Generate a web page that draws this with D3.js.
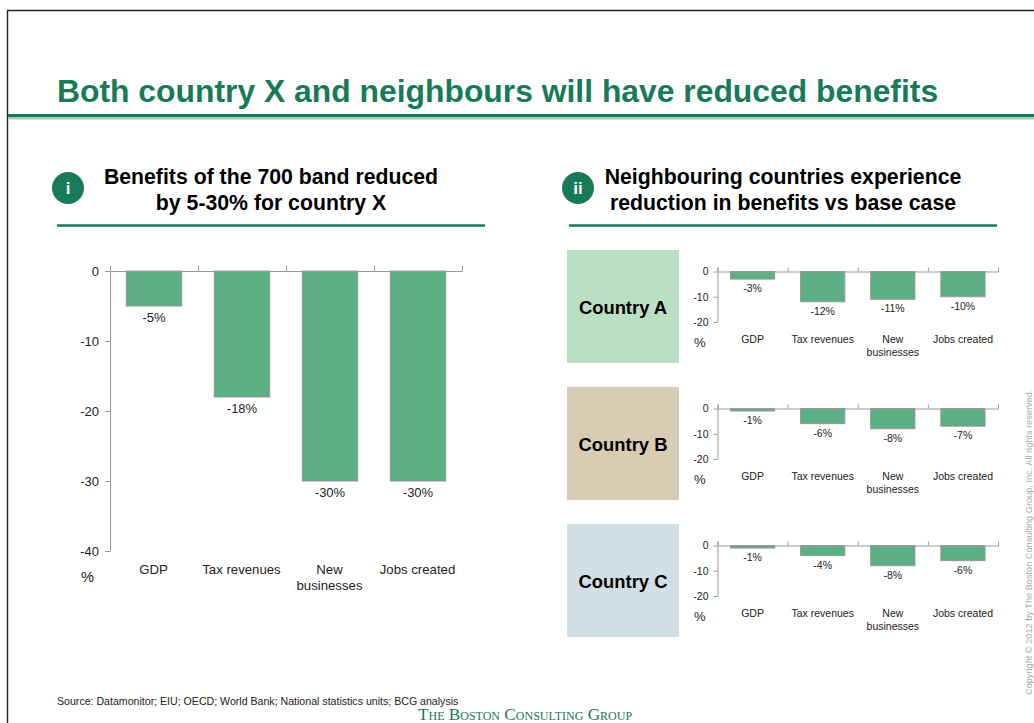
<!DOCTYPE html>
<html>
<head>
<meta charset="utf-8">
<style>
html,body{margin:0;padding:0;background:#fff}
svg{display:block}
text{font-family:"Liberation Sans",Arial,sans-serif}
</style>
<script src="https://cdn.jsdelivr.net/npm/d3@7"></script>
</head>
<body>
<svg id="slide" width="1034" height="723"></svg>
<script>
// Slide content
const titleText = "Both country X and neighbours will have reduced benefits";
const leftHeading = ["Benefits of the 700 band reduced", "by 5-30% for country X"];
const rightHeading = ["Neighbouring countries experience", "reduction in benefits vs base case"];
const sourceText = "Source: Datamonitor; EIU; OECD; World Bank; National statistics units; BCG analysis";
const firmName = "The Boston Consulting Group";
const copyrightText = "Copyright © 2012 by The Boston Consulting Group, Inc. All rights reserved.";

// Chart data, in percent
const categories = ["GDP", "Tax revenues", "New businesses", "Jobs created"];
const countryXValues = [-5, -18, -30, -30];
const countryXTicks = [0, -10, -20, -30, -40];
const neighbourTicks = [0, -10, -20];
const neighbourNames = ["Country A", "Country B", "Country C"];
const countryAValues = [-3, -12, -11, -10];
const countryBValues = [-1, -6, -8, -7];
const countryCValues = [-1, -4, -8, -6];
const neighbourFills = ["#bbdfc3", "#d8ccb4", "#d1dfe5"];

const GREEN = "#177b57", BAR = "#5cae83", BAR_EDGE = "#8f9c95", AXIS = "#9a9a9a", INK = "#222";

const svg = d3.select("#slide");

// Slide frame, title and its two-tone rule
svg.append("path").attr("d", "M7.5,723V10.5H1034").attr("fill", "none").attr("stroke", "#222").attr("stroke-width", 1.4);
svg.append("text").attr("x", 57).attr("y", 102).attr("font-size", 31.85).attr("font-weight", 700)
  .attr("fill", GREEN).text(titleText);
svg.append("rect").attr("x", 8).attr("y", 114).attr("width", 1026).attr("height", 3).attr("fill", GREEN);
svg.append("rect").attr("x", 8).attr("y", 117).attr("width", 1026).attr("height", 2.5).attr("fill", "#a3d0b2");

// Section heading: numbered badge, two bold lines, underline
function heading(badge, cx, textX, ruleX0, ruleX1, lines) {
  svg.append("circle").attr("cx", cx).attr("cy", 188).attr("r", 16).attr("fill", GREEN);
  svg.append("text").attr("x", cx).attr("y", 194).attr("text-anchor", "middle")
    .attr("font-size", 17).attr("font-weight", 700).attr("fill", "#fff").text(badge);
  lines.forEach((l, i) => svg.append("text").attr("x", textX).attr("y", 184 + i * 26)
    .attr("text-anchor", "middle").attr("font-size", 21.25).attr("font-weight", 700).attr("fill", "#000").text(l));
  svg.append("line").attr("x1", ruleX0).attr("x2", ruleX1).attr("y1", 225.5).attr("y2", 225.5)
    .attr("stroke", GREEN).attr("stroke-width", 2.4);
}
heading("i", 68, 271, 57, 485, leftHeading);
heading("ii", 578, 783, 569, 997, rightHeading);

// One downward bar chart: axes come from d3 scales, bars hang from the zero line
function barChart(o) {
  const g = svg.append("g");
  const y = d3.scaleLinear().domain([0, o.min]).range([o.top, o.bottom]);
  const band = d3.scaleBand().domain(categories).range([o.left, o.right]).paddingInner(0.37).paddingOuter(0.185);
  const edges = d3.scaleLinear().domain([0, categories.length]).range([o.left, o.right]);

  g.selectAll("rect.bar").data(o.values).join("rect").attr("class", "bar")
    .attr("x", (d, i) => band(categories[i]))
    .attr("y", y(0))
    .attr("width", band.bandwidth())
    .attr("height", d => y(d) - y(0))
    .attr("fill", BAR).attr("stroke", BAR_EDGE).attr("stroke-width", 1);

  const xAxis = g.append("g").attr("transform", `translate(0,${o.top})`)
    .call(d3.axisTop(edges).ticks(categories.length).tickSize(o.tick).tickFormat(""));
  const yAxis = g.append("g").attr("transform", `translate(${o.left},0)`)
    .call(d3.axisLeft(y).tickValues(o.ticks).tickSize(o.tick).tickSizeOuter(0).tickPadding(o.tickPad).tickFormat(String));
  [xAxis, yAxis].forEach(a => {
    a.selectAll("path,line").attr("stroke", AXIS).attr("stroke-width", 1);
  });
  yAxis.selectAll("text").attr("font-size", o.font).attr("fill", INK).style("font-family", '"Liberation Sans",Arial,sans-serif');

  // Value labels under each bar
  g.selectAll("text.value").data(o.values).join("text").attr("class", "value")
    .attr("x", (d, i) => band(categories[i]) + band.bandwidth() / 2)
    .attr("y", d => y(d) + o.valueGap)
    .attr("text-anchor", "middle").attr("font-size", o.font).attr("fill", INK)
    .text(d => d + "%");

  // Category labels, broken onto two lines where needed
  categories.forEach(c => {
    const cx = band(c) + band.bandwidth() / 2 - o.catShift;
    const parts = c === "New businesses" ? c.split(" ") : [c];
    parts.forEach((p, i) => g.append("text").attr("x", cx).attr("y", o.catY + i * o.catLine)
      .attr("text-anchor", "middle").attr("font-size", o.catFont).attr("fill", INK).text(p));
  });

  g.append("text").attr("x", o.pctX).attr("y", o.pctY).attr("font-size", o.pctFont).attr("fill", INK).text("%");
}

barChart({
  values: countryXValues, ticks: countryXTicks, min: -40,
  left: 110, right: 462, top: 271, bottom: 551,
  tick: 5, tickPad: 6, font: 13, valueGap: 15.5,
  catFont: 13.2, catShift: 0.5, catY: 574, catLine: 16, pctX: 81, pctY: 582, pctFont: 14.6
});

// Three neighbouring-country rows, each a coloured name card and a small chart
[countryAValues, countryBValues, countryCValues].forEach((values, i) => {
  const dy = i * 137;
  svg.append("rect").attr("x", 567).attr("y", 250 + dy).attr("width", 112).attr("height", 113)
    .attr("fill", neighbourFills[i]);
  svg.append("text").attr("x", 623).attr("y", 314 + dy).attr("text-anchor", "middle")
    .attr("font-size", 18.4).attr("font-weight", 700).attr("fill", "#000").text(neighbourNames[i]);
  barChart({
    values, ticks: neighbourTicks, min: -20,
    left: 717.5, right: 998, top: 271.5 + dy, bottom: 322 + dy,
    tick: 4, tickPad: 5, font: 10.5, valueGap: 13,
    catFont: 10.5, catShift: 0, catY: 343 + dy, catLine: 12.5, pctX: 694, pctY: 347 + dy, pctFont: 13
  });
});

// Footer: source line, firm name, vertical copyright notice
svg.append("text").attr("x", 57).attr("y", 705).attr("font-size", 10.6).attr("fill", "#222").text(sourceText);
svg.append("text").attr("x", 418).attr("y", 719.5).attr("font-size", 17.2)
  .style("font-family", '"Liberation Serif",serif').style("font-variant", "small-caps")
  .attr("fill", GREEN).text(firmName);
svg.append("text").attr("transform", "translate(1032,695) rotate(-90)").attr("font-size", 9.2)
  .attr("fill", "#a9a9a9").text(copyrightText);
</script>
</body>
</html>
